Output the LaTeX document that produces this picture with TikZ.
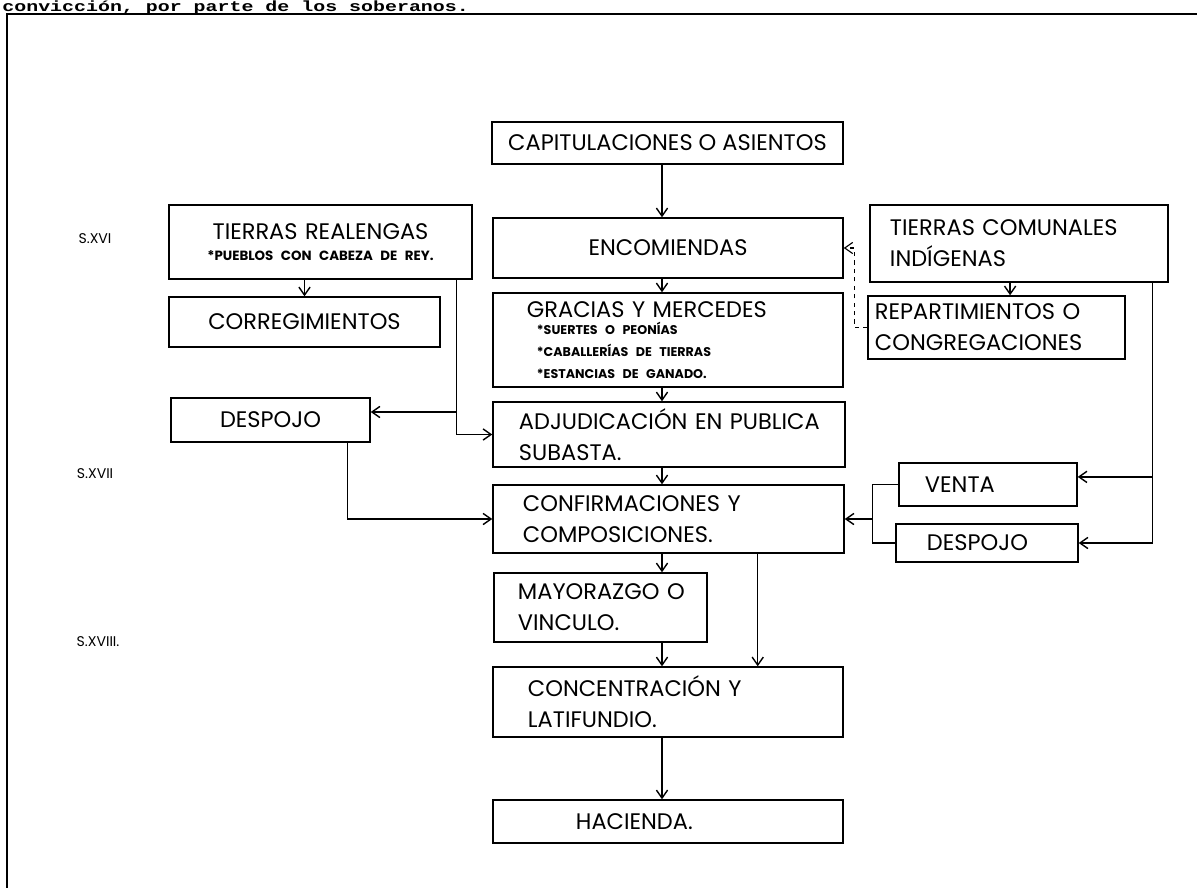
\documentclass[tikz,border=0pt]{standalone}
\usepackage{fontspec}
\setmainfont{Poppins}
\newfontfamily\scanfamily{Liberation Mono}
\usetikzlibrary{arrows.meta,calc,positioning}
\setlength{\parindent}{0pt}
\newcommand{\boxfont}{\fontsize{16}{22}\selectfont}
\newcommand{\itemfont}{\fontsize{9}{15.5}\selectfont\bfseries}
\newcommand{\pueblofont}{\fontsize{9.5}{15}\selectfont\bfseries}
\newcommand{\erafont}{\fontsize{10}{12}\selectfont}
\newcommand{\scanbold}{\scanfamily\bfseries\fontsize{10.5}{10.5}\selectfont}
\tikzset{
  box/.style={draw, line width=1pt, inner ysep=0pt, align=center, font=\boxfont},
  lbox/.style={box, align=left},
  era/.style={inner sep=0pt, font=\erafont},
  flow/.style={-{Straight Barb[length=2mm,width=2.8mm]}, line width=1pt},
  dashflow/.style={flow, dashed, line width=0.8pt}
}
\begin{document}
\begin{tikzpicture}[x=0.025cm, y=-0.025cm]
  \useasboundingbox (0,0) rectangle (1197,888);
  % last line of the page text, and frame
  \node[anchor=base west, inner sep=0pt, font=\scanbold, xscale=1.35, transform shape] (intro) at (2,11) {convicción, por parte de los soberanos.};
  \draw[line width=1.6pt] (1197,14) -- (7,14) -- (7,888);

  % centuries
  \node[era] (s16) at (95,239) {S.XVI};
  \node[era] (s17) at (95,474) {S.XVII};
  \node[era] (s18) at (98,642) {S.XVIII.};

  % main column
  \node[box, minimum width=8.775cm, minimum height=1.05cm] (cap) at (667.5,143) {CAPITULACIONES O ASIENTOS};
  \node[box, minimum width=8.75cm, minimum height=1.5cm] (enc) at (668,248) {ENCOMIENDAS};
  \node[lbox, minimum width=8.75cm, minimum height=2.35cm, text width=7.05cm, inner xsep=0.85cm] (gra) at (668,340)
    {GRACIAS Y MERCEDES\par\vspace{-3.5pt}\itemfont\hspace*{0.25cm}*SUERTES O PEONÍAS\\\hspace*{0.25cm}*CABALLERÍAS DE TIERRAS\\\hspace*{0.25cm}*ESTANCIAS DE GANADO.\par};
  \node[lbox, minimum width=8.8cm, minimum height=1.625cm, text width=7.5cm, inner xsep=0.65cm] (adj) at (669,434.5)
    {\mbox{ADJUDICACIÓN EN PUBLICA}\\SUBASTA.};
  \node[lbox, minimum width=8.775cm, minimum height=1.7cm, text width=7.275cm, inner xsep=0.75cm] (conf) at (668.5,519)
    {CONFIRMACIONES Y\\COMPOSICIONES.};
  \node[lbox, minimum width=5.325cm, minimum height=1.725cm, text width=4.125cm, inner xsep=0.6cm] (may) at (600.5,607.5)
    {\mbox{MAYORAZGO O}\\VINCULO.};
  \node[lbox, minimum width=8.75cm, minimum height=1.75cm, text width=7.0cm, inner xsep=0.875cm] (conc) at (668,702)
    {CONCENTRACIÓN Y\\LATIFUNDIO.};
  \node[lbox, minimum width=8.75cm, minimum height=1.075cm, text width=4.6cm, inner xsep=2.075cm] (hac) at (668,821.5) {HACIENDA.};

  % left side
  \node[box, minimum width=7.575cm, minimum height=1.85cm, text width=7.2cm, inner xsep=0.1875cm] (realengas) at (320.5,242)
    {TIERRAS REALENGAS\par\pueblofont *PUEBLOS CON CABEZA DE REY.\par};
  \node[box, minimum width=6.775cm, minimum height=1.25cm] (corr) at (304.5,322) {CORREGIMIENTOS};
  \node[box, minimum width=4.975cm, minimum height=1.1cm] (despizq) at (270.5,420) {DESPOJO};

  % right side
  \node[lbox, minimum width=7.45cm, minimum height=1.925cm, text width=6.45cm, inner xsep=0.5cm] (comunales) at (1019,243.5)
    {TIERRAS COMUNALES\\INDÍGENAS};
  \node[lbox, minimum width=6.425cm, minimum height=1.575cm, text width=6.075cm, inner xsep=0.175cm] (rep) at (996.5,327.5)
    {REPARTIMIENTOS O\\CONGREGACIONES};
  \node[lbox, minimum width=4.45cm, minimum height=1.075cm, text width=3.15cm, inner xsep=0.65cm] (venta) at (988,484.5) {VENTA};
  \node[lbox, minimum width=4.55cm, minimum height=0.95cm, text width=3.0cm, inner xsep=0.775cm] (despder) at (987,543) {DESPOJO};

  % main flow
  \coordinate (spine) at (662,0);
  \draw[flow] (cap.south -| spine) -- (enc.north -| spine);
  \draw[flow] (enc.south -| spine) -- (gra.north -| spine);
  \draw[flow] (gra.south -| spine) -- (adj.north -| spine);
  \draw[flow] (adj.south -| spine) -- (conf.north -| spine);
  \draw[flow] (conf.south -| spine) -- (may.north -| spine);
  \draw[flow] (may.south -| spine) -- (conc.north -| spine);
  \draw[flow] (conc.south -| spine) -- (hac.north -| spine);
  \coordinate (bypass) at ([xshift=-2.175cm]conf.south east);
  \draw[flow] (bypass) -- (bypass |- conc.north);

  % realengas branch
  \draw[flow] (realengas.south -| corr.north) -- (corr.north);
  \coordinate (realdrop) at ([xshift=-0.4cm]realengas.south east);
  \draw[flow] (realdrop) |- (adj.west);
  \draw[flow] ([yshift=0.2cm]despizq.east -| realdrop) -- ([yshift=0.2cm]despizq.east);
  \draw[flow] ([xshift=-0.575cm]despizq.south east) |- (conf.west);

  % comunales branch
  \draw[flow] ([xshift=0.34cm]rep.north |- comunales.south) -- ([xshift=0.34cm]rep.north);
  \draw[dashflow] (rep.west) -- ++(-13,0) |- (enc.east);
  \coordinate (comdrop) at ([xshift=-0.4cm]comunales.south east);
  \draw[flow] (comdrop) |- (despder.east);
  \draw[flow] ([yshift=0.19cm]venta.east -| comdrop) -- ([yshift=0.19cm]venta.east);
  \coordinate (join) at ([xshift=-0.65cm]venta.west);
  \draw[line width=1pt] (venta.west) -- (join) |- (despder.west);
  \draw[flow] (join |- conf.east) -- (conf.east);
\end{tikzpicture}
\end{document}
